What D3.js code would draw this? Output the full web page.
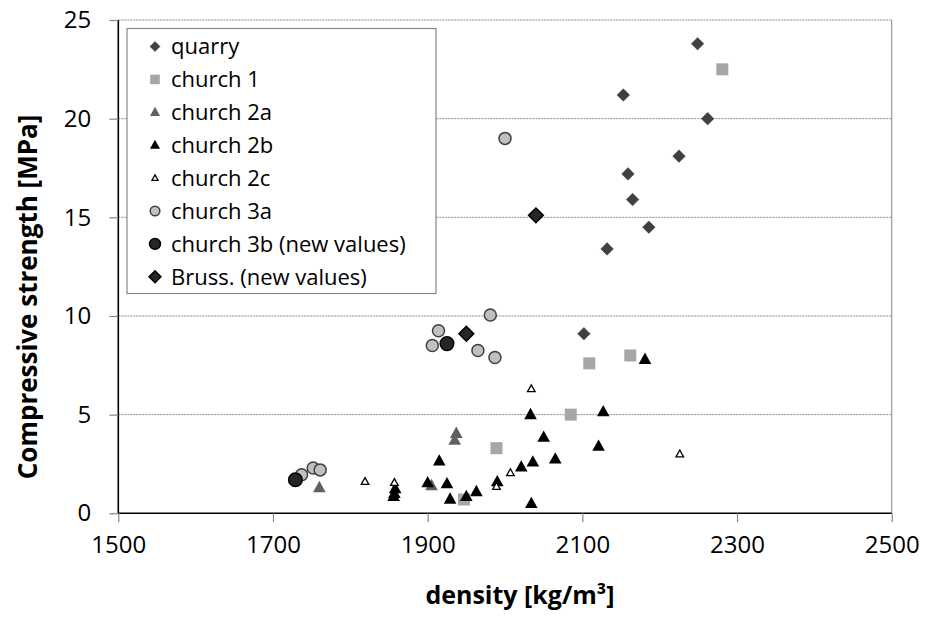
<!DOCTYPE html>
<html><head><meta charset="utf-8">
<script src="https://cdn.jsdelivr.net/npm/d3@7/dist/d3.min.js"></script>
<style>body{margin:0;background:#fff;}svg{display:block;font-family:"Open Sans",sans-serif;}</style>
</head><body>
<svg id="c" width="925" height="620"></svg>
<script>
// data: [density kg/m3, compressive strength MPa]
const quarry = [[2249,23.8],[2153,21.2],[2262,20.0],[2225,18.1],[2159,17.2],[2165,15.9],[2186,14.5],[2132,13.4],[2102,9.1]];
const church1 = [[2281,22.5],[2109,7.6],[2162,8.0],[2085,5.0],[1989,3.3],[1947,0.7]];
const church2a = [[1935,3.7],[1937,4.05],[1905,1.4],[1760,1.3]];
const church2b = [[2181,7.8],[2033,5.0],[2127,5.15],[2050,3.85],[2121,3.4],[1915,2.65],[2065,2.75],[2036,2.6],[2021,2.35],[1990,1.6],[1900,1.55],[1925,1.5],[1858,1.25],[1857,1.0],[1856,0.85],[1963,1.1],[1950,0.85],[1929,0.72],[2034,0.5]];
const church2c = [[1857,1.55],[1819,1.6],[1989,1.35],[2007,2.05],[2034,6.3],[2226,3.0]];
const church3a = [[2000,19.0],[1981,10.05],[1914,9.25],[1906,8.5],[1965,8.25],[1987,7.9],[1737,1.95],[1752,2.3],[1761,2.2]];
const church3b = [[1729,1.7],[1925,8.6]];
const bruss = [[1950,9.1],[2040,15.1]];
const seriesNames = ["quarry","church 1","church 2a","church 2b","church 2c","church 3a","church 3b (new values)","Bruss. (new values)"];
const xTicks = [1500,1700,1900,2100,2300,2500];
const yTicks = [0,5,10,15,20,25];

const series = [
  {name:seriesNames[0], data:quarry,  shape:"diamond", r:6.3, fill:"#404040", stroke:"#404040", sw:0.5},
  {name:seriesNames[1], data:church1, shape:"square",  r:6,   fill:"#a6a6a6", stroke:"none", sw:0},
  {name:seriesNames[2], data:church2a,shape:"triangle",r:6.3, fill:"#606060", stroke:"none", sw:0},
  {name:seriesNames[3], data:church2b,shape:"triangle",r:6.3, fill:"#000000", stroke:"none", sw:0},
  {name:seriesNames[4], data:church2c,shape:"triangle",r:3.8, fill:"#ffffff", stroke:"#000000", sw:1.3},
  {name:seriesNames[5], data:church3a,shape:"circle",  r:6,   fill:"#c0c0c0", stroke:"#404040", sw:1.5},
  {name:seriesNames[6], data:church3b,shape:"circle",  r:6.8, fill:"#262626", stroke:"#000000", sw:1.5},
  {name:seriesNames[7], data:bruss,   shape:"diamond", r:7.4, fill:"#262626", stroke:"#000000", sw:1.5}
];

function shapePath(shape, x, y, r){
  if(shape==="diamond") return `M${x},${y-r}L${x+r},${y}L${x},${y+r}L${x-r},${y}Z`;
  if(shape==="square") return `M${x-r},${y-r}h${2*r}v${2*r}h${-2*r}Z`;
  if(shape==="triangle"){const h=r*1.8;return `M${x},${y-h*0.6}L${x+r},${y+h*0.4}L${x-r},${y+h*0.4}Z`;}
  return `M${x-r},${y}a${r},${r} 0 1,0 ${2*r},0a${r},${r} 0 1,0 ${-2*r},0Z`;
}

const svg = d3.select("#c");
const L=118.3, R=891.7, T=20, B=513.3;
const x = d3.scaleLinear().domain([1500,2500]).range([L,R]);
const y = d3.scaleLinear().domain([0,25]).range([B,T]);

// gridlines
svg.append("g").selectAll("line").data(yTicks.filter(d=>d>0)).join("line")
  .attr("x1",L).attr("x2",R).attr("y1",d=>y(d)).attr("y2",d=>y(d))
  .attr("stroke","#8c8c8c").attr("stroke-width",1).attr("stroke-dasharray","2,1");
// right border
svg.append("line").attr("x1",R).attr("x2",R).attr("y1",T).attr("y2",B).attr("stroke","#999").attr("stroke-width",1.2);

// axes
const xAxis = svg.append("g").attr("transform",`translate(0,${B})`)
  .call(d3.axisBottom(x).tickValues(xTicks).tickSize(9).tickPadding(14).tickFormat(d3.format("d")));
const yAxis = svg.append("g").attr("transform",`translate(${L},0)`)
  .call(d3.axisLeft(y).tickValues(yTicks).tickSize(9).tickPadding(18));
[xAxis,yAxis].forEach(a=>{
  a.select(".domain").attr("stroke","#000").attr("stroke-width",1.6);
  a.selectAll(".tick line").attr("stroke","#888").attr("stroke-width",1.2);
  a.selectAll(".tick text").attr("font-family","Open Sans").attr("font-size",24).attr("fill","#000");
});
xAxis.select(".domain").attr("d",`M${L},0H${R}`);
yAxis.select(".domain").attr("d",`M0,${T}V${B}`);

// axis titles
svg.append("text").attr("x",(L+R)/2 + 15).attr("y",604).attr("text-anchor","middle")
  .attr("font-weight","bold").attr("font-size",25).text("density [kg/m³]");
svg.append("text").attr("transform",`translate(37,${297}) rotate(-90)`).attr("text-anchor","middle")
  .attr("font-weight","bold").attr("font-size",26).text("Compressive strength [MPa]");

// points
series.forEach(s=>{
  svg.append("g").selectAll("path").data(s.data).join("path")
    .attr("d",d=>shapePath(s.shape,x(d[0]),y(d[1]),s.r))
    .attr("fill",s.fill).attr("stroke",s.stroke).attr("stroke-width",s.sw);
});

// legend
const lg = svg.append("g");
lg.append("rect").attr("x",127).attr("y",28.5).attr("width",309).attr("height",265)
  .attr("fill","#fff").attr("stroke","#888").attr("stroke-width",1.2);
series.forEach((s,i)=>{
  const cy = 46.5 + i*32.9;
  lg.append("path").attr("d",shapePath(s.shape,155,cy,s.r*0.8))
    .attr("fill",s.fill).attr("stroke",s.stroke).attr("stroke-width",s.sw);
  lg.append("text").attr("x",171).attr("y",cy).attr("dy","0.35em")
    .attr("font-size",22).text(s.name);
});
</script>
</body></html>
